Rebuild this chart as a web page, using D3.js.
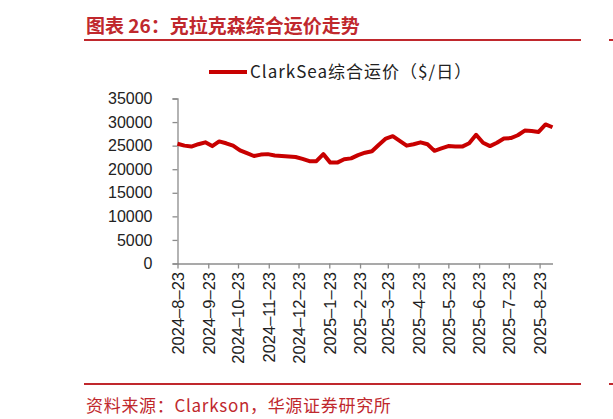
<!DOCTYPE html>
<html>
<head>
<meta charset="utf-8">
<script src="https://cdn.jsdelivr.net/npm/d3@7"></script>
<style>
  body { margin: 0; background: #fff; }
  svg { display: block; }
</style>
</head>
<body>
<svg width="613" height="419"></svg>
<script>
// weekly ClarkSea index, Fridays from 2024-8-23
const startDate = '2024-08-23';
const endDate = '2025-09-05';
const clarkSea = [
    25400, 25000, 24800, 25300, 25700, 24900, 25900, 25500, 25000, 24000,
    23400, 22800, 23100, 23200, 22900, 22800, 22700, 22600, 22200, 21700,
    21700, 23200, 21400, 21400, 22100, 22300, 23000, 23500, 23800, 25200,
    26500, 27000, 26000, 25000, 25300, 25700, 25300, 23900, 24400, 24900,
    24800, 24800, 25500, 27300, 25600, 24900, 25600, 26500, 26600, 27200,
    28200, 28100, 27900, 29500, 28900
];
const tickDates = [
    '2024-08-23', '2024-09-23', '2024-10-23', '2024-11-23', '2024-12-23',
    '2025-01-23', '2025-02-23', '2025-03-23', '2025-04-23', '2025-05-23',
    '2025-06-23', '2025-07-23', '2025-08-23'
];
const yTicks = [0, 5000, 10000, 15000, 20000, 25000, 30000, 35000];

const titleText = '图表 26：克拉克森综合运价走势';
const legendText = 'ClarkSea综合运价（$/日）';
const sourceText = '资料来源：Clarkson，华源证券研究所';

document.addEventListener('DOMContentLoaded', function() {
    let svg = d3.select('svg');
    let red = '#c0282d';
    let cjk = '"Noto Sans CJK SC", "Noto Sans", sans-serif';

    let parse = d3.timeParse('%Y-%m-%d');
    let t0 = parse(startDate);
    let data = clarkSea.map((v, i) => ({ date: d3.timeDay.offset(t0, i * 7), value: v }));

    let x = d3.scaleTime()
        .domain([t0, parse(endDate)])
        .range([177.5, 552.5]);
    let y = d3.scaleLinear()
        .domain([0, 35000])
        .range([263.5, 98.5]);

    // header
    svg.append('text')
        .attr('x', 86).attr('y', 33)
        .attr('font-family', cjk)
        .attr('font-size', 19)
        .attr('font-weight', 700)
        .attr('fill', red)
        .text(titleText);
    svg.append('line')
        .attr('x1', 84).attr('x2', 581).attr('y1', 40).attr('y2', 40)
        .attr('stroke', red).attr('stroke-width', 2);
    svg.append('line')
        .attr('x1', 609).attr('x2', 613).attr('y1', 40).attr('y2', 40)
        .attr('stroke', red).attr('stroke-width', 2);

    // legend
    svg.append('line')
        .attr('x1', 209).attr('x2', 247).attr('y1', 72).attr('y2', 72)
        .attr('stroke', '#c80000').attr('stroke-width', 4);
    svg.append('text')
        .attr('x', 250).attr('y', 72)
        .attr('dy', '0.35em')
        .attr('font-family', cjk)
        .attr('font-size', 17)
        .attr('letter-spacing', 1)
        .attr('fill', '#222')
        .text(legendText);

    // y axis
    let yAxis = svg.append('g')
        .attr('transform', 'translate(177.5,0)')
        .call(d3.axisLeft(y).tickValues(yTicks).tickSizeOuter(0).tickSize(5).tickPadding(20)
            .tickFormat(d3.format('d')));
    yAxis.selectAll('text')
        .attr('font-family', '"Liberation Sans", Arial, sans-serif')
        .attr('font-size', 16)
        .attr('fill', '#222');

    // x axis
    let fmt = d => d.getFullYear() + '–' + (d.getMonth() + 1) + '–' + d.getDate();
    let xAxis = svg.append('g')
        .attr('transform', 'translate(0,263.5)')
        .call(d3.axisBottom(x).tickValues(tickDates.map(parse)).tickSize(5).tickSizeOuter(0)
            .tickFormat(fmt));
    xAxis.selectAll('text')
        .attr('font-family', '"Liberation Sans", Arial, sans-serif')
        .attr('font-size', 16.5)
        .attr('fill', '#222')
        .attr('text-anchor', 'end')
        .attr('transform', 'rotate(-90)')
        .attr('x', -8.5)
        .attr('y', 0)
        .attr('dy', '0.35em');

    svg.selectAll('.domain, .tick line').attr('stroke', '#8c8c8c').attr('stroke-width', 1.3);

    // series
    svg.append('path')
        .datum(data)
        .attr('fill', 'none')
        .attr('stroke', '#c80000')
        .attr('stroke-width', 4)
        .attr('stroke-linejoin', 'round')
        .attr('d', d3.line().x(d => x(d.date)).y(d => y(d.value)));

    // footer
    svg.append('line')
        .attr('x1', 84).attr('x2', 581).attr('y1', 384).attr('y2', 384)
        .attr('stroke', red).attr('stroke-width', 2);
    svg.append('line')
        .attr('x1', 609).attr('x2', 613).attr('y1', 384).attr('y2', 384)
        .attr('stroke', red).attr('stroke-width', 2);
    svg.append('text')
        .attr('x', 86).attr('y', 406)
        .attr('dy', '0.35em')
        .attr('font-family', cjk)
        .attr('font-size', 17)
        .attr('letter-spacing', 0.7)
        .attr('fill', red)
        .text(sourceText);
});
</script>
</body>
</html>
